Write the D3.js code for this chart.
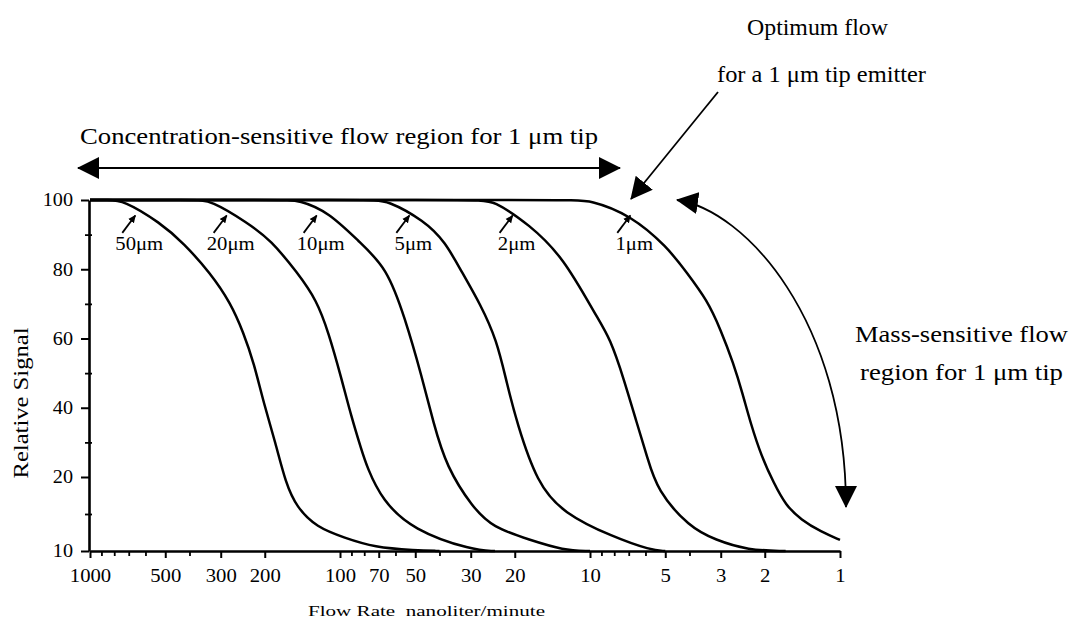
<!DOCTYPE html>
<html>
<head>
<meta charset="utf-8">
<script src="https://cdn.jsdelivr.net/npm/d3@7"></script>
<style>
  body { margin: 0; background: #fff; }
  svg { display: block; }
  text { font-family: "Liberation Serif", "Times New Roman", serif; fill: #000; }
</style>
</head>
<body>
<svg id="chart" width="1069" height="621"></svg>
<script>
// Emitter tip sizes and their response curves: [flow rate (nL/min), relative signal]
const tipSizes = ["50μm", "20μm", "10μm", "5μm", "2μm", "1μm"];

const curve50 = [[1000,100],[850,100],[737,100],[523,93.4],[423,87.6],[330,78.9],[274,70.3],[243,61.6],[221,52.9],[202,41.4],[181,29.8],[165,19.2],[149,15.9],[124,13.2],[96,11.8],[73,10.5],[50,10.1],[40,10]];
const curve20 = [[1000,100],[380,100],[330,100],[234,93.4],[189,88.4],[148,79],[124,71.1],[111,61.6],[99,48.9],[90,37.3],[82,27.8],[78,22.9],[68,16.9],[51,12.8],[29.5,10.1],[24,10]];
const curve10 = [[1000,100],[170,100],[146,100],[111,96.5],[84,88],[65,80.5],[55,66],[47,48.9],[42.3,35.6],[37.5,22.9],[29.5,15.9],[24.5,13.2],[17.4,11.5],[12.8,10.1],[10,10]];
const curve5  = [[1000,100],[75,100],[65,100],[46,94],[38,88],[32.4,78.9],[27.5,70],[23.6,59.6],[21.5,47],[19.6,35.6],[16.3,19.2],[12.8,15.1],[8.1,11.9],[5.7,10.1],[5,10]];
const curve2  = [[1000,100],[28,100],[24.5,100],[17.4,92.8],[12.8,83.5],[9.4,66.2],[8.3,60],[7.3,48],[6.5,35.6],[5.9,25.8],[5.4,18.2],[4.0,13.2],[3.15,11.5],[2.34,10.1],[1.65,10]];
const curve1  = [[1000,100],[12,100],[10,100],[6.9,95.7],[4.9,86.4],[4.1,79],[3.4,71.1],[3.0,62.5],[2.67,52.9],[2.45,44],[2.28,35.6],[2.06,25.9],[1.84,19.2],[1.65,16.2],[1.43,14.2],[1.19,12.6],[1,11.5]];
const curves = [curve50, curve20, curve10, curve5, curve2, curve1];

// Flow rate where each tip label's pointer touches its curve
const labelFlows = [659, 284, 124, 52.8, 20.4, 6.9];

// Axis ticks
const flowTicks = [1000, 500, 300, 200, 100, 70, 50, 30, 20, 10, 5, 3, 2, 1];
const flowMinorTicks = [900, 800, 700, 600, 400, 90, 80, 60, 40, 9, 8, 7, 6, 4];
const signalTicks = [100, 80, 60, 40, 20, 10];
const signalMinorTicks = [90, 70, 50, 30, 15];

const svg = d3.select("#chart");

const x = d3.scaleLog().domain([1000, 1]).range([90, 840]);
const y = d3.scaleLinear().domain([10, 20, 100]).range([551, 477, 200]);

// widen glyphs slightly, like the printed figure's face
function stretch(sel, k) {
  sel.each(function () {
    const w = this.getComputedTextLength();
    d3.select(this).attr("textLength", w * k).attr("lengthAdjust", "spacingAndGlyphs");
  });
}

// Arrowhead markers
const defs = svg.append("defs");
defs.append("marker")
  .attr("id", "bigHead")
  .attr("markerUnits", "userSpaceOnUse")
  .attr("viewBox", "0 0 22 22")
  .attr("markerWidth", 22).attr("markerHeight", 22)
  .attr("refX", 21).attr("refY", 11)
  .attr("orient", "auto-start-reverse")
  .append("path").attr("d", "M0,0L22,11L0,22Z").attr("fill", "#000");
defs.append("marker")
  .attr("id", "smallHead")
  .attr("markerUnits", "userSpaceOnUse")
  .attr("viewBox", "0 0 8 8")
  .attr("markerWidth", 8).attr("markerHeight", 8)
  .attr("refX", 7).attr("refY", 4)
  .attr("orient", "auto")
  .append("path").attr("d", "M0,0.5L8,4L0,7.5Z").attr("fill", "#000");

// Bottom axis (log flow rate, decreasing to the right)
const xAxis = svg.append("g")
  .attr("transform", `translate(0,${y(10)})`)
  .call(d3.axisBottom(x).tickValues(flowTicks).tickFormat(d3.format("d"))
    .tickSize(7).tickSizeOuter(0).tickPadding(11));
xAxis.select(".domain").attr("stroke-width", 2.6);
xAxis.selectAll(".tick line").attr("stroke-width", 2);
xAxis.selectAll(".tick text").attr("font-size", 18).call(stretch, 1.15);

const xMinor = svg.append("g")
  .attr("transform", `translate(0,${y(10)})`)
  .call(d3.axisBottom(x).tickValues(flowMinorTicks).tickFormat("").tickSize(5));
xMinor.select(".domain").remove();
xMinor.selectAll(".tick line").attr("stroke-width", 1.8);

// Left axis (relative signal)
const yAxis = svg.append("g")
  .attr("transform", `translate(${x(1000) - 1},0)`)
  .call(d3.axisLeft(y).tickValues(signalTicks).tickSize(8).tickSizeOuter(0).tickPadding(8));
yAxis.select(".domain").attr("stroke-width", 2.6);
yAxis.selectAll(".tick line").attr("stroke-width", 2);
yAxis.selectAll(".tick text").attr("font-size", 18).call(stretch, 1.12);

const yMinor = svg.append("g")
  .attr("transform", `translate(${x(1000) - 1},0)`)
  .call(d3.axisLeft(y).tickValues(signalMinorTicks).tickFormat("").tickSize(4));
yMinor.select(".domain").remove();
yMinor.selectAll(".tick line").attr("x1", 3).attr("stroke-width", 1.8);

// Axis titles
svg.append("text")
  .attr("transform", "translate(28,403) rotate(-90)")
  .attr("text-anchor", "middle")
  .attr("font-size", 21)
  .attr("textLength", 151).attr("lengthAdjust", "spacingAndGlyphs")
  .text("Relative Signal");

svg.append("text")
  .attr("x", 308).attr("y", 616)
  .attr("font-size", 15)
  .attr("textLength", 237).attr("lengthAdjust", "spacingAndGlyphs")
  .style("white-space", "pre")
  .text("Flow Rate  nanoliter/minute");

// Response curves
const line = d3.line()
  .x(d => x(d[0]))
  .y(d => y(d[1]))
  .curve(d3.curveBasis);

svg.append("g")
  .selectAll("path")
  .data(curves)
  .join("path")
  .attr("d", line)
  .attr("fill", "none")
  .attr("stroke", "#000")
  .attr("stroke-width", 2.5)
  .attr("stroke-linejoin", "round");

// Tip size labels with small pointers
const labels = svg.append("g");
tipSizes.forEach((name, i) => {
  const tx = x(labelFlows[i]);
  labels.append("line")
    .attr("x1", tx - 13).attr("y1", y(90.5))
    .attr("x2", tx).attr("y2", y(95.5))
    .attr("stroke", "#000").attr("stroke-width", 1.8)
    .attr("marker-end", "url(#smallHead)");
  labels.append("text")
    .attr("x", tx + 4).attr("y", y(85.5))
    .attr("text-anchor", "middle")
    .attr("font-size", 18)
    .text(name)
    .call(stretch, 1.15);
});

// Annotations
const ann = svg.append("g").attr("fill", "none").attr("stroke", "#000").attr("stroke-width", 1.8);

// concentration-sensitive span
ann.append("line")
  .attr("x1", 78).attr("y1", 168).attr("x2", 620).attr("y2", 168)
  .attr("marker-start", "url(#bigHead)")
  .attr("marker-end", "url(#bigHead)");

// optimum flow pointer
ann.append("line")
  .attr("x1", 718).attr("y1", 92).attr("x2", 631).attr("y2", 199)
  .attr("marker-end", "url(#bigHead)");

// mass-sensitive span
ann.append("path")
  .attr("d", "M677,200 C745,210 846,320 846,507")
  .attr("marker-start", "url(#bigHead)")
  .attr("marker-end", "url(#bigHead)");

const annText = [
  { t: "Optimum flow", x: 747, y: 35, w: 141 },
  { t: "for a 1 μm tip emitter", x: 717, y: 82, w: 209 },
  { t: "Concentration-sensitive flow region for 1 μm tip", x: 80, y: 144, w: 518 },
  { t: "Mass-sensitive flow", x: 855, y: 342, w: 213 },
  { t: "region for 1 μm tip", x: 860, y: 380, w: 203 }
];
svg.append("g")
  .selectAll("text")
  .data(annText)
  .join("text")
  .attr("x", d => d.x).attr("y", d => d.y)
  .attr("font-size", 24)
  .attr("textLength", d => d.w).attr("lengthAdjust", "spacingAndGlyphs")
  .text(d => d.t);
</script>
</body>
</html>
